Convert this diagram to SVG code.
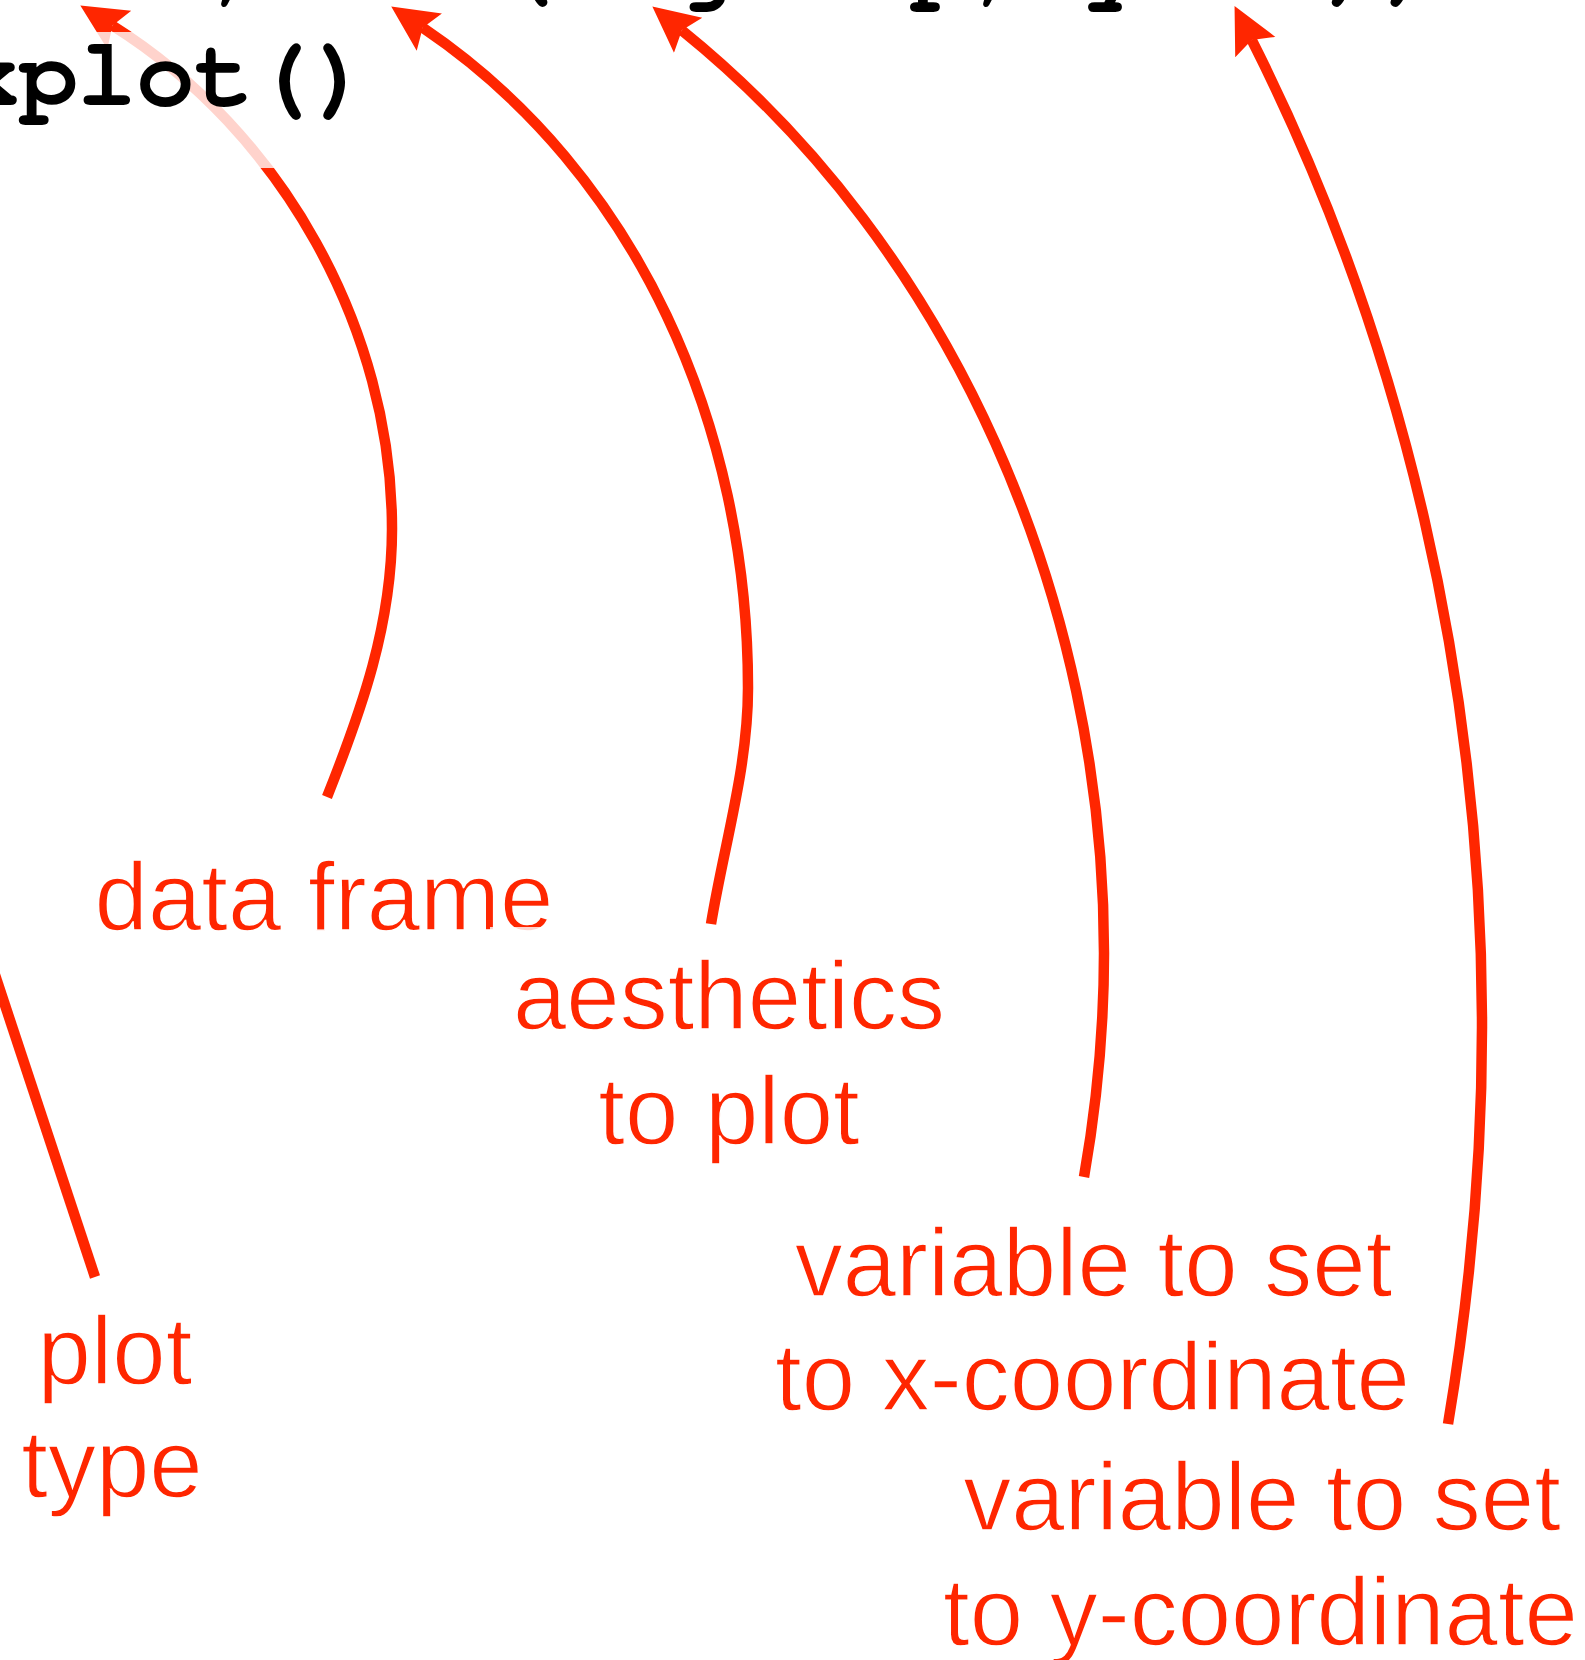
<svg xmlns="http://www.w3.org/2000/svg" width="1585" height="1660" viewBox="0 0 1585 1660">
  <style>
    .code { font-family: "Nimbus Mono PS", "Nimbus Mono L", FreeMono, Courier, "Courier New", "Liberation Mono", monospace; font-weight: bold; font-size: 97.7px; fill: #000; }
    .lbl { font-family: "Liberation Sans", Arial, Helvetica, sans-serif; font-weight: normal; font-size: 96px; fill: #ff2600; stroke: #fff; stroke-width: 1.4px; text-anchor: middle; }
    .arrow { fill: none; stroke: #ff2600; stroke-width: 10.5; stroke-linecap: butt; }
    .veil { fill: #fff; fill-opacity: 0.8; }
  </style>
  <defs>
    <marker id="ah" markerUnits="userSpaceOnUse" markerWidth="60" markerHeight="50" viewBox="0 0 60 50" refX="8" refY="25" orient="auto">
      <path d="M0,2.5 L46,25 L0,47.5 L8,25 Z" fill="#ff2600"/>
    </marker>
  </defs>
  <rect width="1585" height="1660" fill="#fff"/>

  <g id="connectors">
    <path id="c-plot-type" class="arrow" d="M95,1277 L-96,700"/>
    <path id="c-data-frame" class="arrow" marker-end="url(#ah)" d="M327,797 C362,709 392,624 392,529 C392,329 282,132 112.5,25.6"/>
    <path id="c-aesthetics" class="arrow" marker-end="url(#ah)" d="M711,924 C724,845 748,768 748,688 C748,428 639,174 422.7,27.7"/>
    <path id="c-x" class="arrow" marker-end="url(#ah)" d="M1084,1177 C1097,1103 1104,1028 1104,953 C1104,603 955,251 681.9,30.3"/>
    <path id="c-y" class="arrow" marker-end="url(#ah)" d="M1448,1424 C1470,1293 1482,1160 1482,1027 C1482,687 1405,343 1251.7,39.9"/>
  </g>

  <g id="code">
    <rect class="veil" x="-20" y="32" width="400" height="136"/>
    <text class="code" x="-848.3" y="-8">ggplot(PlantGrowth, aes(x=group, y=wt))</text>
    <text class="code" x="-450.1" y="105">geom_boxplot()</text>
  </g>

  <g id="n-data-frame">
    <text class="lbl" x="324" y="930">data frame</text>
  </g>
  <g id="n-aesthetics">
    <rect class="veil" x="490" y="927" width="470" height="230"/>
    <text class="lbl" x="729" y="1029">aesthetics</text>
    <text class="lbl" x="729" y="1144">to plot</text>
  </g>
  <g id="n-plot-type">
    <text class="lbl" x="115" y="1384">plot</text>
    <text class="lbl" x="112" y="1497">type</text>
  </g>
  <g id="n-x">
    <text class="lbl" x="1093.5" y="1296">variable to set</text>
    <text class="lbl" x="1092.5" y="1410">to x-coordinate</text>
  </g>
  <g id="n-y">
    <text class="lbl" x="1262" y="1530">variable to set</text>
    <text class="lbl" x="1260.5" y="1645">to y-coordinate</text>
  </g>
</svg>
